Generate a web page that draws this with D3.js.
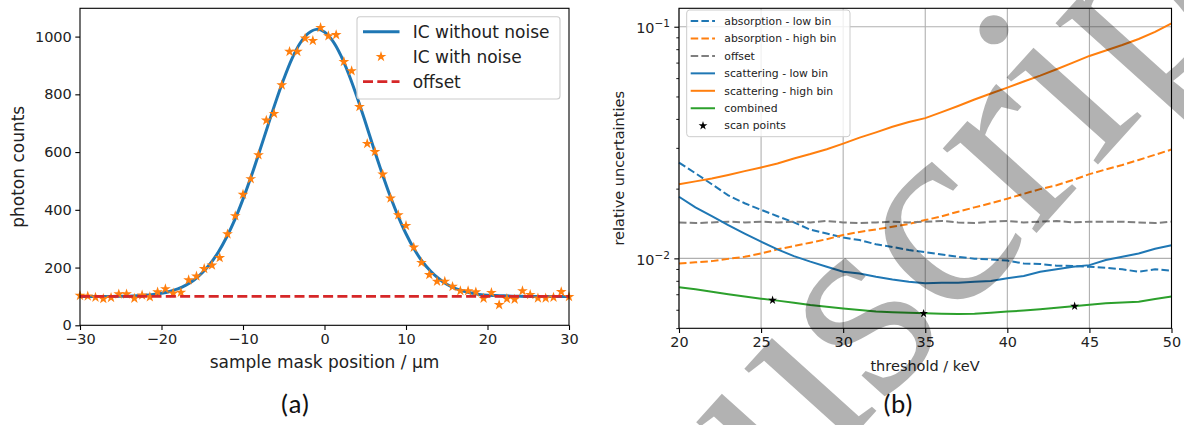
<!DOCTYPE html>
<html><head><meta charset="utf-8">
<script src="https://cdn.jsdelivr.net/npm/d3@7"></script>
<style>body{margin:0;background:#fff}svg{display:block}</style>
</head><body><svg id="c" width="1184" height="425"></svg>
<script>
// ---------- Panel (a) data ----------
const aXTicks = [-30, -20, -10, 0, 10, 20, 30];
const aYTicks = [0, 200, 400, 600, 800, 1000];
const curveX = [-30,-29,-28,-27,-26,-25,-24,-23,-22,-21,-20,-19,-18,-17,-16,-15,-14,-13,-12,-11,-10,-9,-8,-7,-6,-5,-4,-3,-2,-1,0,1,2,3,4,5,6,7,8,9,10,11,12,13,14,15,16,17,18,19,20,21,22,23,24,25,26,27,28,29,30];
const curveY = [100,100,100,100,100,101,101,102,104,107,111,117,126,139,157,182,214,255,306,366,437,515,600,687,773,853,923,977,1011,1025,1016,985,935,868,790,705,617,532,452,380,317,264,221,188,162,142,128,119,112,107,104,103,102,101,100.5,100,100,100,100,100,100];
const noiseX = [-30.00,-29.05,-28.10,-27.14,-26.19,-25.24,-24.29,-23.33,-22.38,-21.43,-20.48,-19.52,-18.57,-17.62,-16.67,-15.71,-14.76,-13.81,-12.86,-11.90,-10.95,-10.00,-9.05,-8.10,-7.14,-6.19,-5.24,-4.29,-3.33,-2.38,-1.43,-0.48,0.48,1.43,2.38,3.33,4.29,5.24,6.19,7.14,8.10,9.05,10.00,10.95,11.90,12.86,13.81,14.76,15.71,16.67,17.62,18.57,19.52,20.48,21.43,22.38,23.33,24.29,25.24,26.19,27.14,28.10,29.05,30.00];
const noiseY = [103,101,97,92,96,108,108,93,104,98,115,126,111,114,157,170,196,208,234,316,379,453,507,590,710,733,832,948,948,994,986,1031,1002,1006,913,881,757,629,601,523,440,382,345,270,217,175,152,152,134,119,119,115,93,113,71,92,90,119,106,94,94,97,116,99];
const offsetX = [-30, 30];
const offsetY = [100, 100];
const aLegend = ["IC without noise", "IC with noise", "offset"];

// ---------- Panel (b) data ----------
const thr = [20,21,22,23,24,25,26,27,28,29,30,31,32,33,34,35,36,37,38,39,40,41,42,43,44,45,46,47,48,49,50];
const absLow  = [0.0259,0.0233,0.0209,0.0187,0.0173,0.0162,0.0152,0.0143,0.0133,0.0128,0.0123,0.0120,0.0115,0.0112,0.01086,0.01064,0.0104,0.01016,0.00997,0.0099,0.00978,0.0095,0.00946,0.0093,0.00927,0.0092,0.00911,0.00897,0.00876,0.00897,0.00885];
const absHigh = [0.00951,0.00962,0.00973,0.00995,0.01016,0.0105,0.01094,0.0113,0.01169,0.0121,0.01262,0.0130,0.01334,0.0137,0.01407,0.01463,0.0152,0.0159,0.0166,0.0173,0.0181,0.0190,0.0199,0.0207,0.0218,0.0231,0.0242,0.0253,0.0266,0.0280,0.0295];
const offsetB = [0.0143,0.0142,0.0143,0.0144,0.0143,0.0144,0.0143,0.0144,0.0143,0.0145,0.0143,0.0142,0.0143,0.0144,0.0143,0.0144,0.0145,0.0143,0.0142,0.0144,0.0145,0.0143,0.0144,0.0145,0.0143,0.0144,0.0144,0.0144,0.0143,0.0142,0.0144];
const scatLow = [0.01845,0.0166,0.0152,0.0139,0.0128,0.0118,0.01094,0.01023,0.00968,0.0092,0.00876,0.0086,0.00833,0.0081,0.00792,0.0078,0.00785,0.00785,0.00792,0.00798,0.0082,0.0084,0.00876,0.00897,0.0092,0.00935,0.00984,0.01016,0.0105,0.0110,0.0114];
const scatHigh = [0.0209,0.0215,0.0221,0.0229,0.0238,0.0247,0.0257,0.0270,0.0282,0.0296,0.0313,0.0332,0.0350,0.0370,0.0388,0.0403,0.0428,0.0455,0.0485,0.0515,0.0546,0.0580,0.0615,0.0655,0.0700,0.0748,0.0790,0.0834,0.0885,0.0950,0.1035];
const combined = [0.0075,0.00735,0.00718,0.00700,0.00684,0.00670,0.00657,0.00643,0.00629,0.00618,0.00608,0.00598,0.00589,0.00585,0.00582,0.00579,0.00577,0.00575,0.00577,0.00582,0.00589,0.00595,0.00603,0.00612,0.00622,0.00631,0.0064,0.00645,0.0065,0.00668,0.00684];
const scanX = [25.7, 34.9, 44.1];
const scanY = [0.0066, 0.00578, 0.00622];
const bXTicks = [20, 25, 30, 35, 40, 45, 50];
const bYMajor = [0.1, 0.01];
const bYMajorExp = ["−1", "−2"];
const bYMinor = [0.005,0.006,0.007,0.008,0.009,0.02,0.03,0.04,0.05,0.06,0.07,0.08,0.09];
const bLegend = ["absorption - low bin","absorption - high bin","offset","scattering - low bin","scattering - high bin","combined","scan points"];

// ---------- drawing ----------
const svg = d3.select("#c");
const TXT = "#222";
const FONT = "DejaVu Sans, sans-serif";
const C_BLUE = "#1f77b4", C_ORANGE = "#ff7f0e", C_RED = "#d62728", C_GREEN = "#2ca02c", C_GREY = "#7f7f7f";

// ===== Panel (a) =====
const xA = d3.scaleLinear().domain([-30, 30]).range([80, 569]);
const yA = d3.scaleLinear().domain([0, 1098]).range([325.3, 8.3]);
const gA = svg.append("g");

const axA_x = gA.append("g").attr("transform", "translate(0,325.3)")
  .call(d3.axisBottom(xA).tickValues(aXTicks).tickSize(4.7).tickPadding(3.5));
const axA_y = gA.append("g").attr("transform", "translate(80,0)")
  .call(d3.axisLeft(yA).tickValues(aYTicks).tickSize(4.7).tickPadding(3.5).tickFormat(d3.format("d")));
[axA_x, axA_y].forEach(a => {
  a.select(".domain").remove();
  a.selectAll("line").attr("stroke", "#000").attr("stroke-width", 1.1);
  a.selectAll("text").attr("fill", TXT).attr("font-family", FONT).attr("font-size", 14.5);
});

const lineA = d3.line().x((d, i) => xA(curveX[i])).y(d => yA(d)).curve(d3.curveCatmullRom);
gA.append("path").datum(curveY).attr("d", lineA).attr("fill", "none")
  .attr("stroke", C_BLUE).attr("stroke-width", 3);
gA.selectAll(".star").data(noiseY).enter().append("path")
  .attr("transform", (d, i) => `translate(${xA(noiseX[i])},${yA(d)})`)
  .attr("d", d3.symbol(d3.symbolStar, 36)).attr("fill", C_ORANGE);
gA.append("path").datum(offsetY)
  .attr("d", d3.line().x((d, i) => xA(offsetX[i])).y(d => yA(d)))
  .attr("stroke", C_RED).attr("stroke-width", 2.7).attr("stroke-dasharray", "10,4.3").attr("fill", "none");

gA.append("rect").attr("x", 80).attr("y", 8.3).attr("width", 489).attr("height", 317)
  .attr("fill", "none").attr("stroke", "#000").attr("stroke-width", 1.1);

gA.append("text").attr("x", 324.5).attr("y", 368).attr("text-anchor", "middle")
  .attr("font-family", FONT).attr("font-size", 17).attr("fill", TXT).text("sample mask position / μm");
gA.append("text").attr("transform", "translate(24,166.8) rotate(-90)").attr("text-anchor", "middle")
  .attr("font-family", FONT).attr("font-size", 17).attr("fill", TXT).text("photon counts");

// legend (a)
const lgA = gA.append("g");
lgA.append("rect").attr("x", 357).attr("y", 16.7).attr("width", 203).attr("height", 82.3).attr("rx", 3)
  .attr("fill", "#fff").attr("fill-opacity", 0.8).attr("stroke", "#ccc").attr("stroke-width", 1.1);
const aRows = [31.7, 56.7, 81.7];
lgA.append("line").attr("x1", 363).attr("x2", 399.5).attr("y1", aRows[0]).attr("y2", aRows[0])
  .attr("stroke", C_BLUE).attr("stroke-width", 3);
lgA.append("path").attr("transform", `translate(381,${aRows[1]})`).attr("d", d3.symbol(d3.symbolStar, 36)).attr("fill", C_ORANGE);
lgA.append("line").attr("x1", 363).attr("x2", 399.5).attr("y1", aRows[2]).attr("y2", aRows[2])
  .attr("stroke", C_RED).attr("stroke-width", 2.7).attr("stroke-dasharray", "10,4.3");
aLegend.forEach((t, i) => lgA.append("text").attr("x", 412.7).attr("y", aRows[i]).attr("dy", "0.35em")
  .attr("font-family", FONT).attr("font-size", 17).attr("fill", TXT).text(t));

gA.append("text").attr("x", 295).attr("y", 413).attr("text-anchor", "middle")
  .attr("font-family", "Carlito, Calibri, 'Open Sans', sans-serif").attr("font-size", 27).attr("fill", "#111").text("(a)");

// ===== Panel (b) =====
const xB = d3.scaleLinear().domain([20, 50]).range([679, 1171.5]);
const yB = d3.scaleLog().domain([0.00499, 0.1201]).range([328.3, 8.3]);
const gB = svg.append("g");

gB.selectAll(".gx").data(bXTicks).enter().append("line")
  .attr("x1", d => xB(d)).attr("x2", d => xB(d)).attr("y1", 8.3).attr("y2", 328.3)
  .attr("stroke", "#b0b0b0").attr("stroke-width", 1.1);
gB.selectAll(".gy").data(bYMajor).enter().append("line")
  .attr("x1", 679).attr("x2", 1171.5).attr("y1", d => yB(d)).attr("y2", d => yB(d))
  .attr("stroke", "#b0b0b0").attr("stroke-width", 1.1);

const axB_x = gB.append("g").attr("transform", "translate(0,328.3)")
  .call(d3.axisBottom(xB).tickValues(bXTicks).tickSize(4.7).tickPadding(3.5));
axB_x.select(".domain").remove();
axB_x.selectAll("line").attr("stroke", "#000").attr("stroke-width", 1.1);
axB_x.selectAll("text").attr("fill", TXT).attr("font-family", FONT).attr("font-size", 14.4);

const axB_y = gB.append("g").attr("transform", "translate(679,0)")
  .call(d3.axisLeft(yB).tickValues(bYMajor).tickSize(4.7).tickPadding(3.5).tickFormat(() => ""));
axB_y.select(".domain").remove();
axB_y.selectAll("line").attr("stroke", "#000").attr("stroke-width", 1.1);
axB_y.selectAll(".tick text").remove();
bYMajor.forEach((v, i) => {
  const t = gB.append("text").attr("x", 670).attr("y", yB(v)).attr("dy", "0.45em").attr("text-anchor", "end")
    .attr("font-family", FONT).attr("font-size", 14.4).attr("fill", TXT);
  t.append("tspan").text("10");
  t.append("tspan").attr("dy", "-0.55em").attr("font-size", 10.5).text(bYMajorExp[i]);
});
const axB_ym = gB.append("g").attr("transform", "translate(679,0)")
  .call(d3.axisLeft(yB).tickValues(bYMinor).tickSize(2.7).tickFormat(() => ""));
axB_ym.select(".domain").remove();
axB_ym.selectAll("line").attr("stroke", "#000").attr("stroke-width", 0.9);

const lineB = arr => d3.line().x((d, i) => xB(thr[i])).y(d => yB(d))(arr);
const series = [
  {v: absLow, c: C_BLUE, dash: "7.5,3.2"},
  {v: absHigh, c: C_ORANGE, dash: "7.5,3.2"},
  {v: offsetB, c: C_GREY, dash: "7.5,3.2"},
  {v: scatLow, c: C_BLUE, dash: null},
  {v: scatHigh, c: C_ORANGE, dash: null},
  {v: combined, c: C_GREEN, dash: null}
];
series.forEach(s => gB.append("path").attr("d", lineB(s.v)).attr("fill", "none")
  .attr("stroke", s.c).attr("stroke-width", 2).attr("stroke-dasharray", s.dash));
gB.selectAll(".scan").data(scanY).enter().append("path")
  .attr("transform", (d, i) => `translate(${xB(scanX[i])},${yB(d)})`)
  .attr("d", d3.symbol(d3.symbolStar, 24)).attr("fill", "#000");

gB.append("rect").attr("x", 679).attr("y", 8.3).attr("width", 492.5).attr("height", 320)
  .attr("fill", "none").attr("stroke", "#000").attr("stroke-width", 1.1);

gB.append("text").attr("x", 925).attr("y", 371).attr("text-anchor", "middle")
  .attr("font-family", FONT).attr("font-size", 14.5).attr("fill", TXT).text("threshold / keV");
gB.append("text").attr("transform", "translate(624,168.3) rotate(-90)").attr("text-anchor", "middle")
  .attr("font-family", FONT).attr("font-size", 14.5).attr("fill", TXT).text("relative uncertainties");

// legend (b)
const lgB = gB.append("g");
lgB.append("rect").attr("x", 686.7).attr("y", 10).attr("width", 163.3).attr("height", 126.7).attr("rx", 3)
  .attr("fill", "#fff").attr("fill-opacity", 0.8).attr("stroke", "#ccc").attr("stroke-width", 1);
const bRowY = i => 21 + i * 17.45;
const bHandles = [
  {c: C_BLUE, dash: "7.5,3.2"}, {c: C_ORANGE, dash: "7.5,3.2"}, {c: C_GREY, dash: "7.5,3.2"},
  {c: C_BLUE}, {c: C_ORANGE}, {c: C_GREEN}
];
bHandles.forEach((h, i) => lgB.append("line").attr("x1", 690.7).attr("x2", 715).attr("y1", bRowY(i)).attr("y2", bRowY(i))
  .attr("stroke", h.c).attr("stroke-width", 2).attr("stroke-dasharray", h.dash || null));
lgB.append("path").attr("transform", `translate(703,${bRowY(6)})`).attr("d", d3.symbol(d3.symbolStar, 24)).attr("fill", "#000");
bLegend.forEach((t, i) => lgB.append("text").attr("x", 724.3).attr("y", bRowY(i)).attr("dy", "0.35em")
  .attr("font-family", FONT).attr("font-size", 10.8).attr("fill", TXT).text(t));

gB.append("text").attr("x", 898).attr("y", 413).attr("text-anchor", "middle")
  .attr("font-family", "Carlito, Calibri, 'Open Sans', sans-serif").attr("font-size", 27).attr("fill", "#111").text("(b)");

// ===== watermark =====
const WM = "Accepted Manuscript";
const wmSize = 275, wmAng = -48;
const wm = svg.append("text").text(WM).attr("font-family", "Liberation Serif, serif")
  .attr("font-size", wmSize).attr("fill", "#000").attr("fill-opacity", 0.3);
const ci = WM.indexOf("script") + 1;
const sp = wm.node().getStartPositionOfChar(ci), ep = wm.node().getEndPositionOfChar(ci);
const lcx = (sp.x + ep.x) / 2, lcy = sp.y - 0.23 * wmSize;
const th = wmAng * Math.PI / 180;
const rx = lcx * Math.cos(th) - lcy * Math.sin(th), ry = lcx * Math.sin(th) + lcy * Math.cos(th);
wm.attr("transform", `translate(${945 - rx},${240 - ry}) rotate(${wmAng})`);
</script></body></html>
